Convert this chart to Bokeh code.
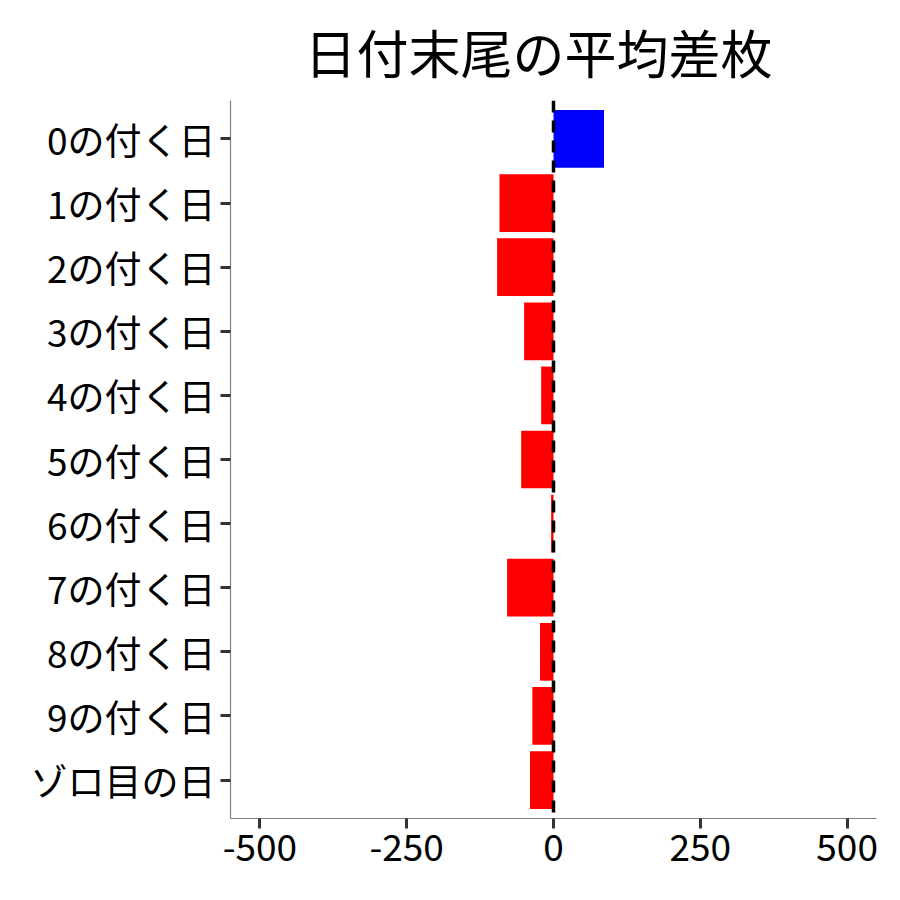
from bokeh.plotting import figure
from bokeh.models import Range1d, FactorRange, Span, ColumnDataSource, FixedTicker
from bokeh.embed import file_html
from bokeh.resources import INLINE

categories = ["0の付く日", "1の付く日", "2の付く日", "3の付く日", "4の付く日",
              "5の付く日", "6の付く日", "7の付く日", "8の付く日", "9の付く日", "ゾロ目の日"]
values = [86, -92, -96, -50, -21, -55, -4, -79, -23, -36, -40]
x_ticks = [-500, -250, 0, 250, 500]
x_tick_labels = ["-500", "-250", "0", "250", "500"]
title_text = "日付末尾の平均差枚"

colors = ["#0000FF" if v > 0 else "#FF0000" for v in values]
src = ColumnDataSource(dict(cat=categories, val=values, color=colors))

FONT = "Noto Sans CJK JP"

p = figure(width=900, height=900,
           y_range=FactorRange(factors=list(reversed(categories)), range_padding=0.1,
                               range_padding_units="absolute"),
           x_range=Range1d(-550, 550),
           output_backend="svg", toolbar_location=None,
           min_border_left=230, min_border_right=24, min_border_top=100, min_border_bottom=82,
           title=title_text)

p.hbar(y="cat", left=0, right="val", height=0.9, color="color", source=src, line_color=None)

p.add_layout(Span(location=0, dimension="height", line_color="black", line_width=3.5,
                  line_dash="12 8"))

p.title.text_font = FONT
p.title.text_font_size = "52px"
p.title.text_font_style = "normal"
p.title.align = "left"
p.title.offset = 74
p.title.text_color = "black"
p.title.standoff = 23

p.xgrid.visible = False
p.ygrid.visible = False
p.outline_line_color = None

for ax in (p.xaxis[0], p.yaxis[0]):
    ax.axis_line_color = "#7f7f7f"
    ax.axis_line_width = 1.2
    ax.major_tick_line_color = "#333333"
    ax.major_tick_line_width = 3
    ax.major_tick_out = 10
    ax.major_tick_in = 0
    ax.minor_tick_line_color = None
    ax.major_label_text_font = FONT
    ax.major_label_text_font_size = "37px"
    ax.major_label_text_color = "black"
    ax.major_label_standoff = 5

p.xaxis[0].ticker = FixedTicker(ticks=x_ticks)
p.xaxis[0].major_label_overrides = {t: s for t, s in zip(x_ticks, x_tick_labels)}

open("out.html", "w").write(file_html(p, INLINE))
